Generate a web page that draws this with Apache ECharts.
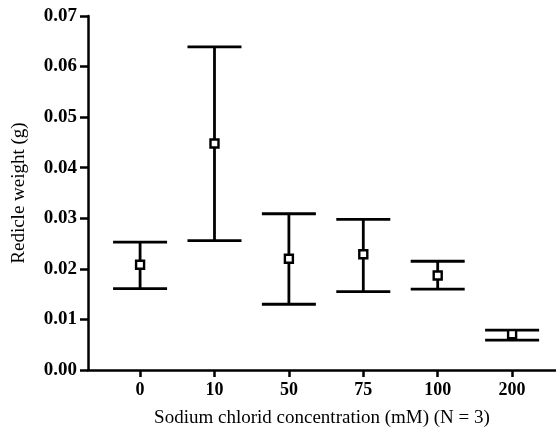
<!DOCTYPE html>
<html>
<head>
<meta charset="utf-8">
<script src="https://cdn.jsdelivr.net/npm/echarts@6/dist/echarts.min.js"></script>
<style>
  html, body { margin: 0; padding: 0; background: #fff; }
  #chart { width: 556px; height: 432px; }
</style>
</head>
<body>
<div id="chart"></div>
<script>
// NaCl concentration groups (mM)
const categories = ['0', '10', '50', '75', '100', '200'];
// mean radicle weight (g)
const means = [0.0208, 0.0448, 0.0220, 0.0229, 0.0187, 0.0071];
// error bar ends
const upper = [0.0253, 0.0639, 0.0309, 0.0298, 0.0215, 0.0079];
const lower = [0.0161, 0.0256, 0.0130, 0.0155, 0.0160, 0.0059];

const serif = '"Liberation Serif", "DejaVu Serif", serif';
const idx = categories.map((c, i) => i);

const chart = echarts.init(document.getElementById('chart'), null, { renderer: 'canvas' });

const option = {
  animation: false,
  grid: { left: 88, right: 0, top: 16, bottom: 62, outerBoundsMode: 'none', containLabel: false },
  xAxis: {
    type: 'value',
    min: -0.7,
    max: 5.59,
    name: 'Sodium chlorid concentration (mM) (N = 3)',
    nameLocation: 'middle',
    nameGap: 39,
    nameTextStyle: { fontFamily: serif, fontSize: 19, color: '#000' },
    axisLine: { onZero: false, lineStyle: { color: '#000', width: 2.5 } },
    axisTick: { show: true, length: 7, customValues: idx, lineStyle: { color: '#000', width: 2.5 } },
    axisLabel: {
      customValues: idx,
      formatter: v => categories[v],
      fontFamily: serif, fontSize: 18, fontWeight: 'bold', color: '#000', margin: 11
    },
    splitLine: { show: false }
  },
  yAxis: {
    type: 'value',
    min: 0,
    max: 0.07,
    interval: 0.01,
    name: 'Redicle weight (g)',
    nameLocation: 'middle',
    nameGap: 59,
    nameTextStyle: { fontFamily: serif, fontSize: 19, color: '#000' },
    axisLine: { show: true, onZero: false, lineStyle: { color: '#000', width: 2.5 } },
    axisTick: { show: true, length: 8, lineStyle: { color: '#000', width: 2.5 } },
    axisLabel: {
      formatter: v => v.toFixed(2),
      fontFamily: serif, fontSize: 19, fontWeight: 'bold', color: '#000', margin: 11
    },
    splitLine: { show: false }
  },
  series: [
    {
      type: 'custom',
      data: idx.map(i => [i, lower[i], upper[i]]),
      renderItem: (params, api) => {
        const x = api.value(0);
        const lo = api.coord([x, api.value(1)]);
        const hi = api.coord([x, api.value(2)]);
        const half = 27;
        const style = { stroke: '#000', lineWidth: 2.8 };
        return {
          type: 'group',
          children: [
            { type: 'line', shape: { x1: lo[0], y1: lo[1], x2: hi[0], y2: hi[1] }, style },
            { type: 'line', shape: { x1: hi[0] - half, y1: hi[1], x2: hi[0] + half, y2: hi[1] }, style },
            { type: 'line', shape: { x1: lo[0] - half, y1: lo[1], x2: lo[0] + half, y2: lo[1] }, style }
          ]
        };
      },
      z: 2
    },
    {
      type: 'scatter',
      data: idx.map(i => [i, means[i]]),
      symbol: 'rect',
      symbolSize: 8,
      itemStyle: { color: '#ffffff', borderColor: '#000', borderWidth: 2.4, opacity: 1 },
      emphasis: { disabled: true },
      z: 3
    }
  ]
};

chart.setOption(option);
</script>
</body>
</html>
